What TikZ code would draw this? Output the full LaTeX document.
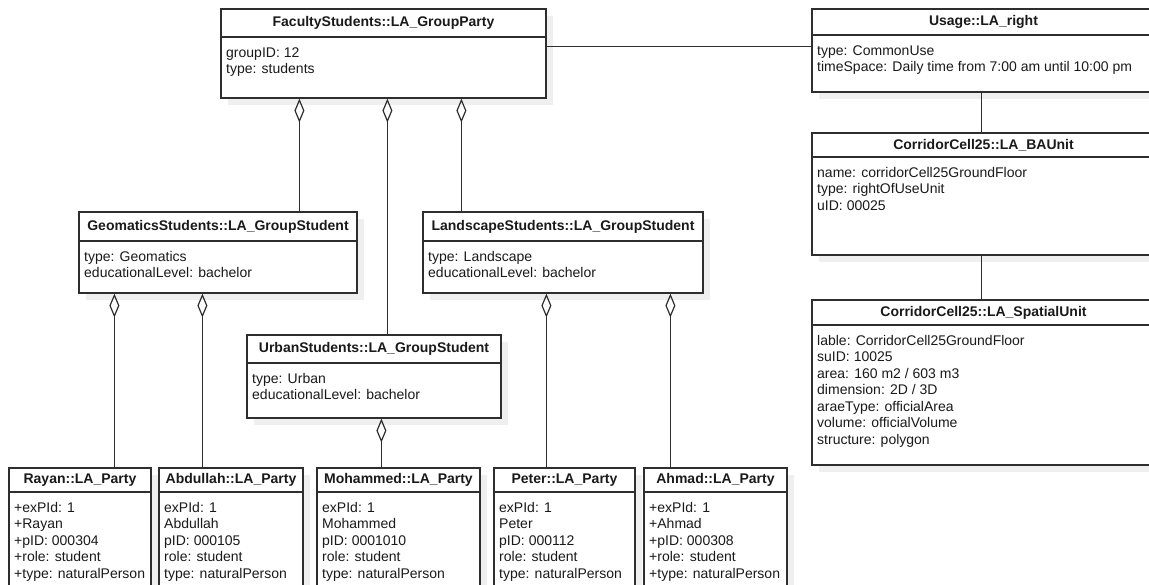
\documentclass[tikz,border=0pt]{standalone}
\usepackage{fontspec}
\setmainfont{Liberation Sans}
\usetikzlibrary{arrows.meta,fit,calc}
\definecolor{ln}{HTML}{2E2E2E}
\definecolor{tx}{HTML}{1A1A1A}
\definecolor{sh}{HTML}{EFEFEF}
\tikzset{
  boxst/.style={draw=ln, line width=1.2pt, fill=white, inner sep=0pt, rectangle},
  titlest/.style={inner sep=0pt, text=tx, font=\fontsize{14}{16.5}\selectfont\bfseries},
  bodyst/.style={anchor=north west, inner sep=0pt, align=left, text=tx, font=\fontsize{14}{16.5}\selectfont},
  divst/.style={draw=ln, line width=1.2pt},
  assoc/.style={draw=ln, line width=1.2pt},
  aggr/.style={draw=ln, line width=1.2pt, arrows={Diamond[open,length=24pt,width=10pt]-}}
}
% name x1 y1 x2 y2 ydiv title body
\newcommand\umlbox[8]{%
  \fill[sh] (#2+7,#3+7) rectangle (#4+7,#5+7);
  \node[boxst, fit={(#2,#3) (#4,#5)}] (#1) {};
  \draw[divst] (#2,#6) -- (#4,#6);
  \node[titlest] (#1-t) at ({(#2+#4)/2},{(#3+#6)/2}) {#7};
  \node[bodyst] (#1-b) at (#2+5,#6+8.5) {\strut #8};
}
\begin{document}
\begin{tikzpicture}[x=1pt,y=-1pt]
\useasboundingbox (0,0) rectangle (1149,585);
\fill[white] (0,0) rectangle (1149,585);
\clip (0,0) rectangle (1149,585);

\umlbox{fac}{221}{9}{546}{98}{37}{FacultyStudents::LA\_GroupParty}{groupID: 12\\type: students}
\umlbox{usage}{812}{9}{1155}{92}{35}{Usage::LA\_right}{type: CommonUse\\timeSpace: Daily time from 7:00 am until 10:00 pm}
\umlbox{ba}{812}{133}{1155}{255}{157}{CorridorCell25::LA\_BAUnit}{name: corridorCell25GroundFloor\\type: rightOfUseUnit\\uID: 00025}
\umlbox{sp}{812}{300}{1155}{465}{325}{CorridorCell25::LA\_SpatialUnit}{lable: CorridorCell25GroundFloor\\suID: 10025\\area: 160 m2 / 603 m3\\dimension: 2D / 3D\\araeType: officialArea\\volume: officialVolume\\structure: polygon}
\umlbox{geo}{79}{212}{357}{293}{241}{GeomaticsStudents::LA\_GroupStudent}{type: Geomatics\\educationalLevel: bachelor}
\umlbox{land}{423}{212}{703}{293}{241}{LandscapeStudents::LA\_GroupStudent}{type: Landscape\\educationalLevel: bachelor}
\umlbox{urb}{247}{335}{501}{418}{363}{UrbanStudents::LA\_GroupStudent}{type: Urban\\educationalLevel: bachelor}
\umlbox{rayan}{9}{468}{151}{610}{492}{Rayan::LA\_Party}{+exPId: 1\\+Rayan\\+pID: 000304\\+role: student\\+type: naturalPerson}
\umlbox{abd}{159}{468}{303}{610}{492}{Abdullah::LA\_Party}{exPId: 1\\Abdullah\\pID: 000105\\role: student\\type: naturalPerson}
\umlbox{moh}{317}{468}{480}{610}{492}{Mohammed::LA\_Party}{exPId: 1\\Mohammed\\pID: 0001010\\role: student\\type: naturalPerson}
\umlbox{pet}{494}{468}{635}{610}{492}{Peter::LA\_Party}{exPId: 1\\Peter\\pID: 000112\\role: student\\type: naturalPerson}
\umlbox{ahm}{644}{468}{787}{610}{492}{Ahmad::LA\_Party}{+exPId: 1\\+Ahmad\\+pID: 000308\\+role: student\\+type: naturalPerson}

% associations
\draw[assoc] ($(fac.north east)+(0,38)$) -- ($(usage.north west)+(0,38)$);
\draw[assoc] ($(usage.south west)+(170,0)$) -- ($(ba.north west)+(170,0)$);
\draw[assoc] ($(ba.south west)+(170,0)$) -- ($(sp.north west)+(170,0)$);

% aggregations
\draw[aggr] ($(fac.south west)+(79,0)$) -- ($(geo.north west)+(221,0)$);
\draw[aggr] ($(fac.south west)+(167,0)$) -- ($(urb.north west)+(141,0)$);
\draw[aggr] ($(fac.south west)+(241,0)$) -- ($(land.north west)+(39,0)$);
\draw[aggr] ($(geo.south west)+(36,0)$) -- ($(rayan.north west)+(106,0)$);
\draw[aggr] ($(geo.south west)+(124,0)$) -- ($(abd.north west)+(44,0)$);
\draw[aggr] ($(urb.south west)+(135,0)$) -- ($(moh.north west)+(65,0)$);
\draw[aggr] ($(land.south west)+(124,0)$) -- ($(pet.north west)+(53,0)$);
\draw[aggr] ($(land.south west)+(248,0)$) -- ($(ahm.north west)+(27,0)$);
\end{tikzpicture}
\end{document}
